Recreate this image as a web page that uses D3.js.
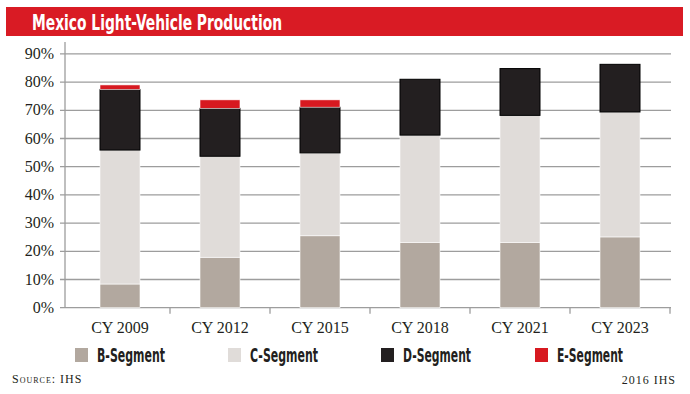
<!DOCTYPE html>
<html>
<head>
<meta charset="utf-8">
<script src="https://cdn.jsdelivr.net/npm/d3@7"></script>
<style>
  body { margin: 0; background: #fff; }
  svg { display: block; }
</style>
</head>
<body>
<div id="chart"></div>
<script>
// Data (share of production, %)
const years = ["CY 2009", "CY 2012", "CY 2015", "CY 2018", "CY 2021", "CY 2023"];
const bSegment = [8.4, 17.9, 25.5, 23.2, 23.2, 25.1];
const cSegment = [47.5, 35.8, 29.4, 38.0, 45.0, 44.3];
const dSegment = [21.5, 17.0, 16.2, 19.8, 16.6, 16.9];
const eSegment = [1.6, 3.0, 2.6, 0, 0, 0];
const segmentNames = ["B-Segment", "C-Segment", "D-Segment", "E-Segment"];
const yTicks = [0, 10, 20, 30, 40, 50, 60, 70, 80, 90];

const width = 690, height = 394;
const colors = ["#b2a89f", "#e0dcd9", "#231f20", "#d71920"];
const condensed = "'DejaVu Sans Condensed', 'Liberation Sans', sans-serif";
const serif = "'Liberation Serif', 'DejaVu Serif', serif";

const rows = years.map((y, i) => ({
  year: y,
  "B-Segment": bSegment[i],
  "C-Segment": cSegment[i],
  "D-Segment": dSegment[i],
  "E-Segment": eSegment[i]
}));

const svg = d3.select("#chart").append("svg")
  .attr("width", width)
  .attr("height", height);

// title bar
svg.append("rect")
  .attr("x", 6).attr("y", 7)
  .attr("width", 677).attr("height", 29)
  .attr("fill", "#d91b24");

svg.append("text")
  .attr("x", 32).attr("y", 29.5)
  .attr("fill", "#fff")
  .attr("textLength", 250)
  .attr("lengthAdjust", "spacingAndGlyphs")
  .style("font-family", condensed)
  .style("font-weight", "bold")
  .style("font-size", "21px")
  .text("Mexico Light-Vehicle Production");

const x = d3.scaleBand()
  .domain(years)
  .range([70, 670])
  .paddingInner(0.6)
  .paddingOuter(0.3);

const y = d3.scaleLinear()
  .domain([0, 90])
  .range([307.7, 53.9]);

// gridlines
svg.append("g")
  .selectAll("line")
  .data(yTicks)
  .enter().append("line")
  .attr("x1", 60).attr("x2", 671)
  .attr("y1", d => y(d)).attr("y2", d => y(d))
  .attr("stroke", "#9d9d9d")
  .attr("stroke-width", 1.3);

// y axis line
svg.append("line")
  .attr("x1", 65).attr("x2", 65)
  .attr("y1", y(90) - 12).attr("y2", y(0))
  .attr("stroke", "#9d9d9d")
  .attr("stroke-width", 1.3);

// y labels
svg.append("g")
  .selectAll("text")
  .data(yTicks)
  .enter().append("text")
  .attr("x", 54)
  .attr("y", d => y(d) + 5)
  .attr("text-anchor", "end")
  .style("font-family", serif)
  .style("font-size", "16px")
  .attr("fill", "#231f20")
  .text(d => d + "%");

// x axis ticks at band boundaries
const boundaries = years.map(d => x(d) + x.bandwidth() + x.step() * 0.3);
svg.append("g")
  .selectAll("line")
  .data(boundaries)
  .enter().append("line")
  .attr("x1", d => d).attr("x2", d => d)
  .attr("y1", y(0)).attr("y2", y(0) + 6)
  .attr("stroke", "#9d9d9d")
  .attr("stroke-width", 1.3);

// x labels
svg.append("g")
  .selectAll("text")
  .data(years)
  .enter().append("text")
  .attr("x", d => x(d) + x.bandwidth() / 2)
  .attr("y", 333)
  .attr("text-anchor", "middle")
  .style("font-family", serif)
  .style("font-size", "16px")
  .attr("fill", "#231f20")
  .text(d => d);

// stacked bars
const stacked = d3.stack().keys(segmentNames)(rows);

svg.append("g")
  .selectAll("g")
  .data(stacked)
  .enter().append("g")
  .attr("fill", (d, i) => colors[i])
  .selectAll("rect")
  .data(d => d.map(v => Object.assign(v, { key: d.key })))
  .enter().append("rect")
  .filter(d => d[1] - d[0] > 0)
  .attr("x", d => x(d.data.year))
  .attr("width", x.bandwidth())
  .attr("y", d => y(d[1]))
  .attr("height", d => y(d[0]) - y(d[1]))
  .attr("stroke", d => d.key === "D-Segment" ? "#000" : "#fff")
  .attr("stroke-width", d => d.key === "D-Segment" ? 1 : 0.6);

// legend
const legendX = [75, 228, 381, 535];
const legendW = [68, 68, 68, 66];
const legend = svg.append("g")
  .selectAll("g")
  .data(segmentNames)
  .enter().append("g")
  .attr("transform", (d, i) => `translate(${legendX[i]},348)`);

legend.append("rect")
  .attr("width", 13).attr("height", 14)
  .attr("fill", (d, i) => colors[i]);

legend.append("text")
  .attr("x", 22).attr("y", 14)
  .attr("textLength", (d, i) => legendW[i])
  .attr("lengthAdjust", "spacingAndGlyphs")
  .style("font-family", condensed)
  .style("font-weight", "bold")
  .style("font-size", "20px")
  .attr("fill", "#231f20")
  .text(d => d);

// footer
svg.append("text")
  .attr("x", 12).attr("y", 383)
  .style("font-family", serif)
  .style("font-size", "12px")
  .style("font-variant", "small-caps")
  .style("letter-spacing", "1px")
  .attr("fill", "#231f20")
  .text("Source: IHS");

svg.append("text")
  .attr("x", 676).attr("y", 384)
  .attr("text-anchor", "end")
  .style("font-family", serif)
  .style("font-size", "12px")
  .style("letter-spacing", "1px")
  .attr("fill", "#231f20")
  .text("2016 IHS");
</script>
</body>
</html>
